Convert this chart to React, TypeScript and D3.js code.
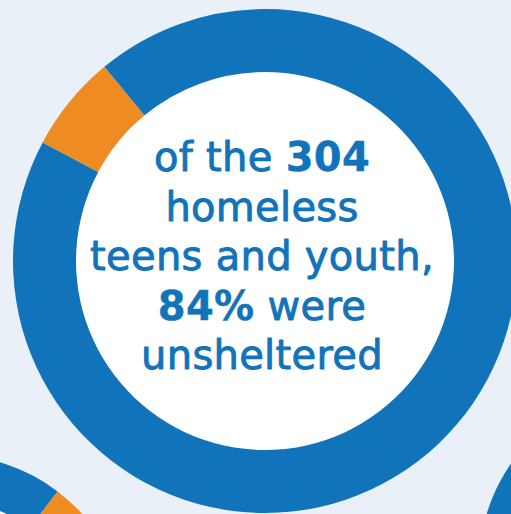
import React from "react";
import * as d3 from "d3";

// ---- data ----
const segmentKinds = ["blue", "orange", "blue"];
const mainValues = [82.8, 6.2, 11.0];
const leftValues = [10.3, 6.2, 83.5];
const rightValues = [100];

const textLines = [
  [{ t: "of the ", b: false }, { t: "304", b: true }],
  [{ t: "homeless", b: false }],
  [{ t: "teens and youth,", b: false }],
  [{ t: "84%", b: true }, { t: " were", b: false }],
  [{ t: "unsheltered", b: false }],
];

const W = 511;
const H = 514;
const BLUE = "#1174bb";
const ORANGE = "#ef8b23";
const BG = "#e9f0f8";

function Donut({ cx, cy, R, r, values, kinds }: any) {
  const pie = d3.pie<number>().sort(null).value((d) => d);
  const arcs = pie(values);
  const arc = d3.arc<any>().innerRadius(r).outerRadius(R);
  return (
    <g transform={`translate(${cx},${cy})`}>
      <circle r={r} fill="#ffffff" />
      {arcs.map((a, i) => (
        <path key={i} d={arc(a) as string} fill={kinds[i] === "orange" ? ORANGE : BLUE} />
      ))}
    </g>
  );
}

export default function App() {
  const fs = 40;
  const lh = 49.6;
  const y0 = 171;
  const tx = 262;
  return (
    <div style={{ position: "absolute", left: 0, top: 0 }}>
      <svg width={W} height={H} style={{ display: "block" }}>
        <rect width={W} height={H} fill={BG} />
        <Donut cx={-51} cy={635} R={180} r={134} values={leftValues} kinds={segmentKinds} />
        <Donut cx={659} cy={566} R={180} r={134} values={rightValues} kinds={segmentKinds} />
        <Donut cx={265} cy={261} R={252} r={189} values={mainValues} kinds={segmentKinds} />
        <g
          fontFamily="'DejaVu Sans', sans-serif"
          fontSize={fs}
          fill={BLUE}
          stroke={BLUE}
          strokeLinejoin="round"
          textAnchor="middle"
          letterSpacing={0.3}
        >
          {textLines.map((line, i) => (
            <text key={i} x={tx} y={y0 + i * lh}>
              {line.map((s, j) => (
                <tspan key={j} fontWeight={s.b ? 700 : 400} strokeWidth={s.b ? 0.4 : 0.9}>
                  {s.t}
                </tspan>
              ))}
            </text>
          ))}
        </g>
      </svg>
    </div>
  );
}
